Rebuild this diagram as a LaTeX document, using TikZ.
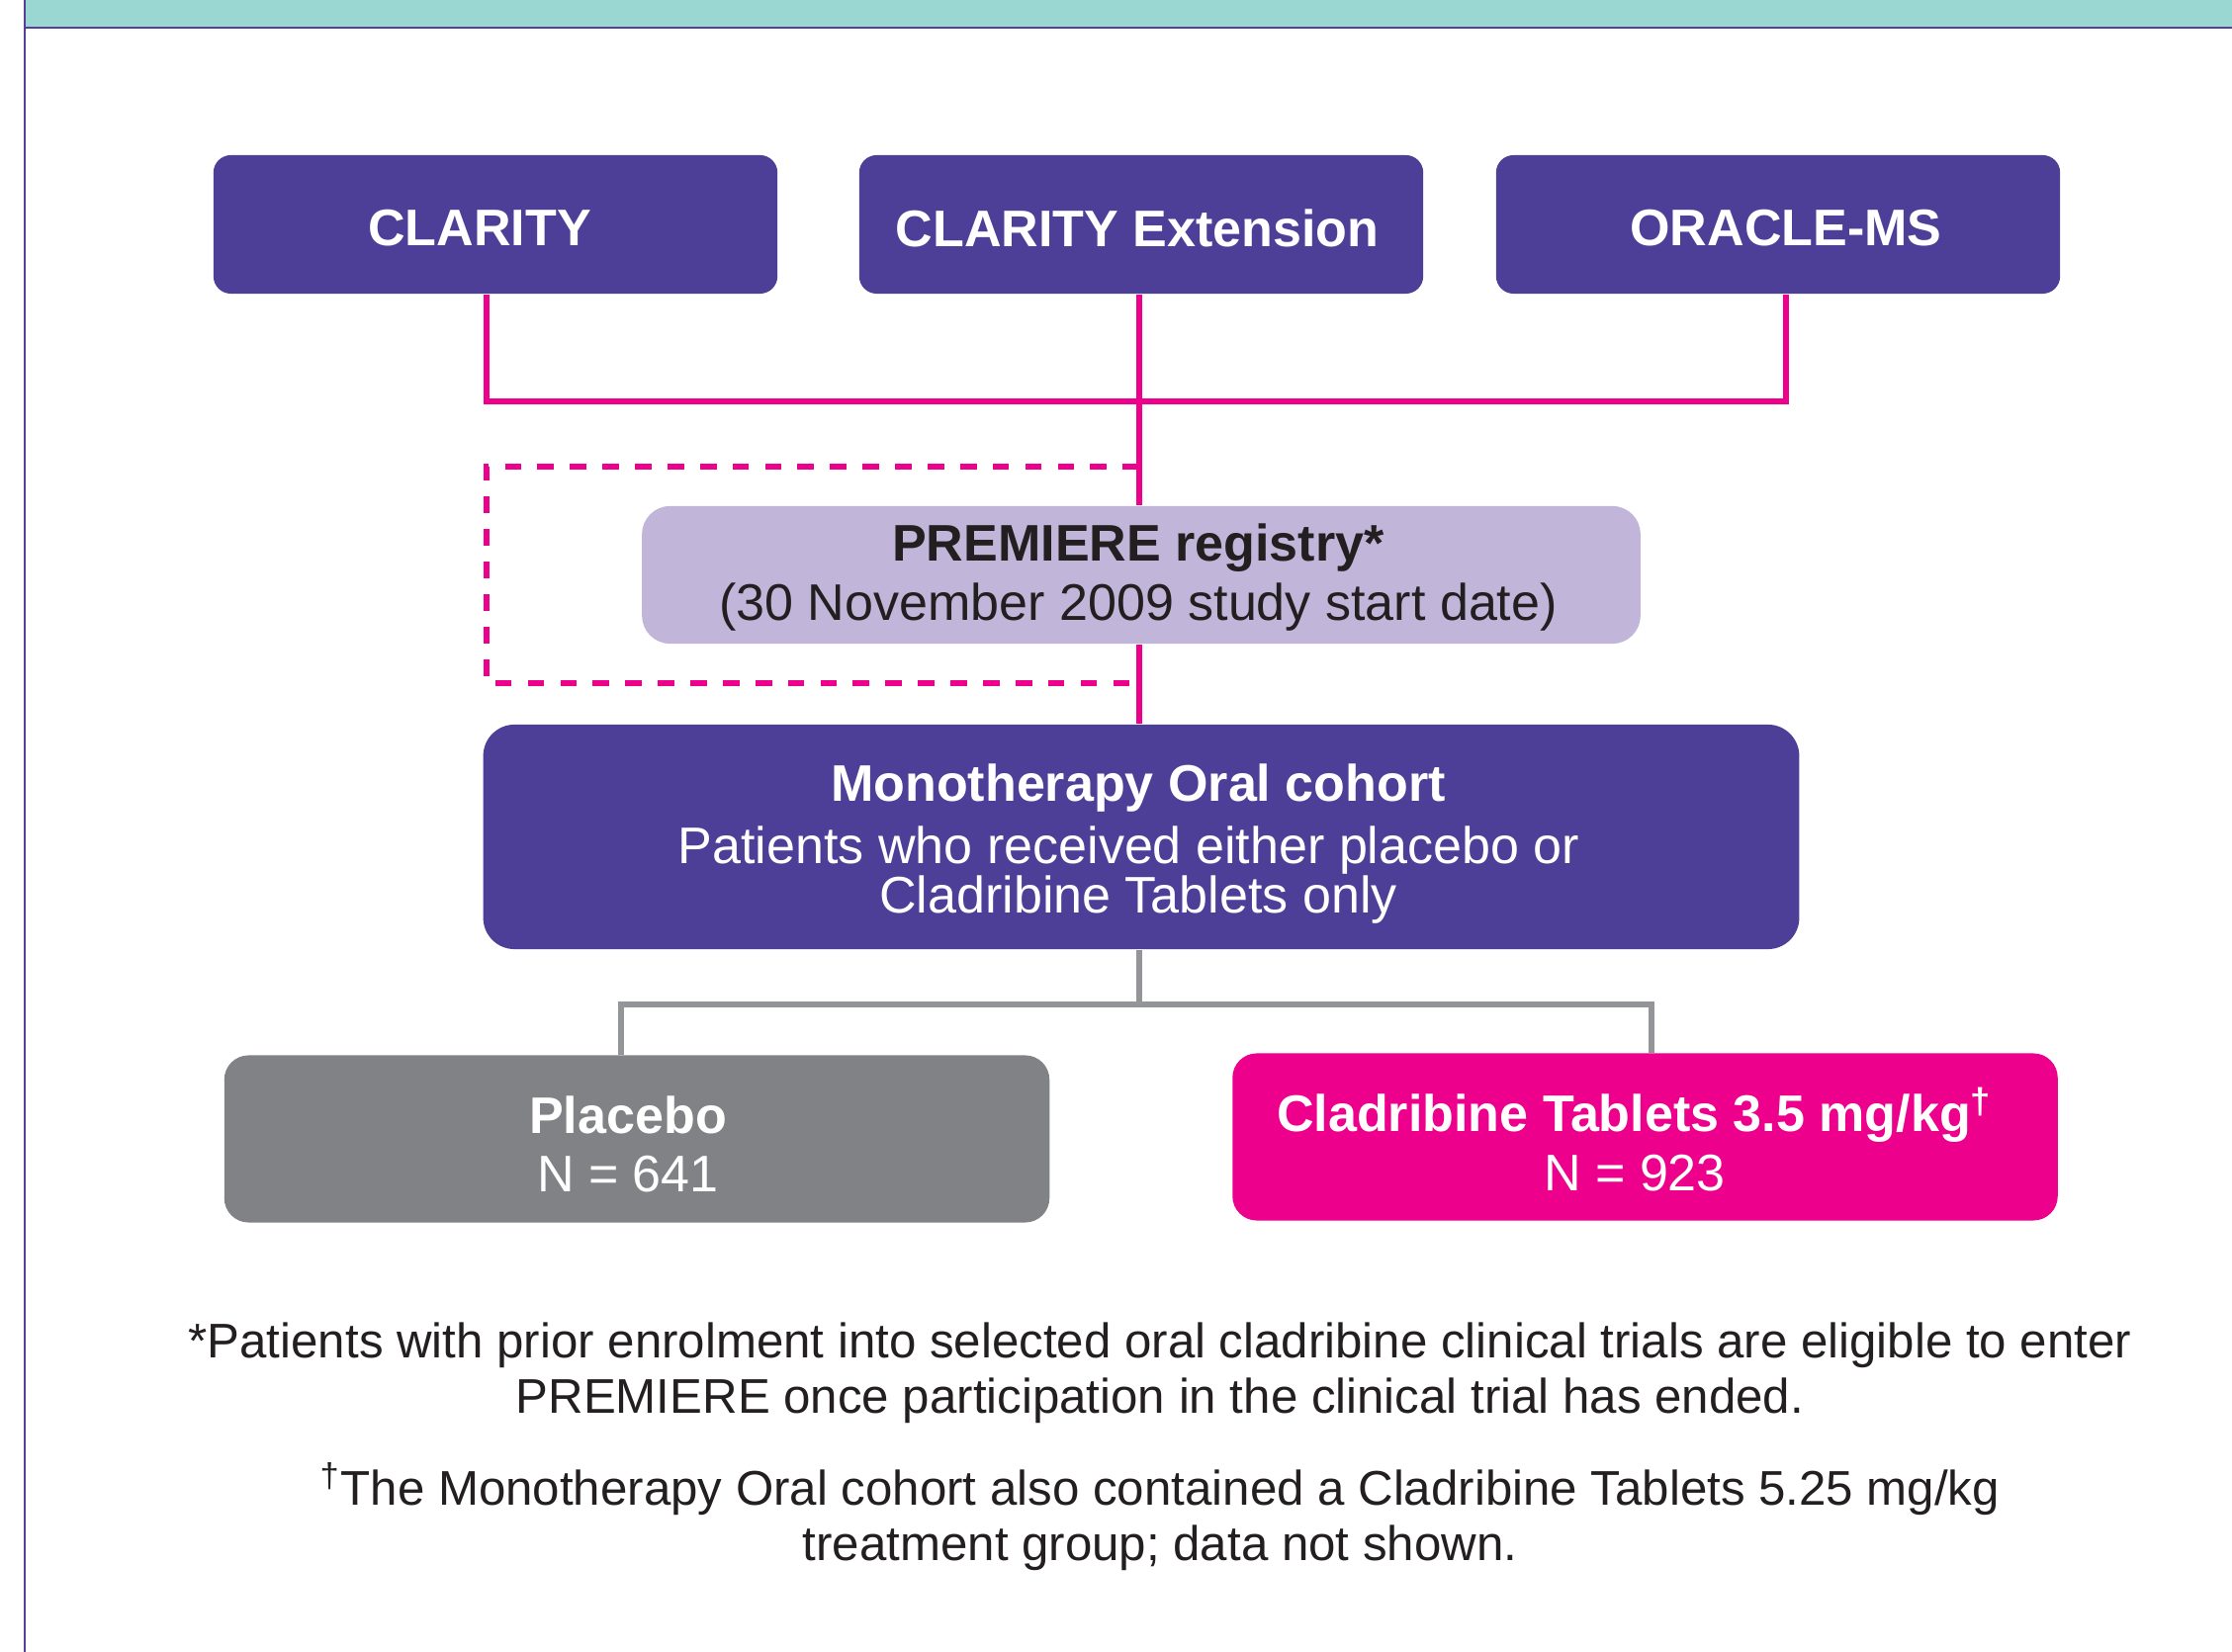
\documentclass[tikz,border=0pt]{standalone}
\usepackage{fontspec}
\setmainfont{Liberation Sans}
\definecolor{boxpurple}{HTML}{4D3F97}
\definecolor{lavender}{HTML}{C1B5D9}
\definecolor{mag}{HTML}{EC008C}
\definecolor{boxgray}{HTML}{818285}
\definecolor{linegray}{HTML}{939598}
\definecolor{tealbar}{HTML}{9AD6D2}
\definecolor{frame}{HTML}{553F9A}
\definecolor{darktext}{HTML}{231F20}
\tikzset{
  topbox/.style={fill=boxpurple, rounded corners=5pt, minimum width=5.70cm, minimum height=1.40cm, inner sep=0pt},
  regbox/.style={fill=lavender, rounded corners=8pt, minimum width=10.09cm, minimum height=1.39cm, inner sep=0pt},
  monobox/.style={fill=boxpurple, rounded corners=9pt, minimum width=13.30cm, minimum height=2.27cm, inner sep=0pt},
  armbox/.style={rounded corners=7pt, minimum width=8.34cm, minimum height=1.69cm, inner sep=0pt},
  toptext/.style={text=white, font=\fontsize{14.8}{16.4}\selectfont\bfseries, inner sep=0pt},
  regtext/.style={text=darktext, align=center, inner sep=0pt, font=\fontsize{14.8}{16.4}\selectfont},
  monotext/.style={text=white, align=center, inner sep=0pt, font=\fontsize{14.8}{14}\selectfont},
  armtext/.style={text=white, align=center, inner sep=0pt, font=\fontsize{14.8}{16.4}\selectfont},
  pinkline/.style={draw=mag, line width=1.6pt},
  pinkdash/.style={draw=mag, line width=1.6pt, dash pattern=on 4.75pt off 4.6pt},
  grayline/.style={draw=linegray, line width=1.6pt},
  note/.style={text=darktext, align=center, inner sep=0pt, font=\fontsize{14}{16}\selectfont}
}
\begin{document}
\begin{tikzpicture}[x=0.01cm, y=-0.01cm]
\useasboundingbox (0,0) rectangle (2257,1671);
% header and frame
\fill[tealbar] (25,0) rectangle (2257,27);
\draw[frame, line width=0.6pt] (25,28) -- (2257,28);
\draw[frame, line width=0.6pt] (25,0) -- (25,1671);

% top boxes
\node[topbox] (clarity) at (501,227) {};
\node[topbox] (ext) at (1154,227) {};
\node[topbox] (oracle) at (1798,227) {};
\node[toptext] (clarityT) at (485,231) {CLARITY};
\node[toptext] (extT) at (1150,231) {CLARITY Extension};
\node[toptext] (oracleT) at (1806,231) {ORACLE-MS};

% registry
\node[regbox] (premiere) at (1154,581.5) {};
\node[regtext] (premiereT) at (1151,584) {\textbf{PREMIERE registry*}\\[0.5pt]
  (30 November 2009 study start date)};

% monotherapy
\node[monobox] (mono) at (1154,846.5) {};
\node[monotext] (monoT) at (1151,853.5) {\textbf{Monotherapy Oral cohort}\\[4pt]
  Patients who received either placebo or\kern5.4pt\\ Cladribine Tablets only};

% arms
\node[armbox, fill=boxgray] (placebo) at (644,1152) {};
\node[armbox, fill=mag] (clad) at (1663.5,1150) {};
\node[armtext] (placeboT) at (635,1157.5) {\textbf{Placebo}\\[0.5pt] N = 641};
\node[armtext] (cladT) at (1653,1152.5) {\textbf{Cladribine Tablets 3.5 mg/kg\textsuperscript{†}}\\[0.5pt] N = 923};

% connectors
\coordinate (hl) at (0,406);
\coordinate (dtop) at (0,472);
\coordinate (dbot) at (0,691);
\coordinate (gl) at (0,1016);
\coordinate (clx) at (492,0);
\coordinate (orx) at (1806,0);
\coordinate (midx) at (1152,0);
\coordinate (plx) at (628,0);
\coordinate (cdx) at (1670,0);
\draw[pinkline] (clarity.south -| clx) -- (hl -| clx) -- (hl -| orx) -- (oracle.south -| orx);
\draw[pinkline] (ext.south -| midx) -- (premiere.north -| midx);
\draw[pinkline] (premiere.south -| midx) -- (mono.north -| midx);
\draw[pinkdash] (dtop -| midx) -- (dtop -| clx) -- (dbot -| clx) -- (dbot -| midx);
\draw[grayline] (mono.south -| midx) -- (gl -| midx);
\draw[grayline] (placebo.north -| plx) -- (gl -| plx) -- (gl -| cdx) -- (clad.north -| cdx);

% footnotes
\node[note] (fn1) at (1173,1389) {*Patients with prior enrolment into selected oral cladribine clinical trials are eligible to enter\\
  PREMIERE once participation in the clinical trial has ended.};
\node[note] (fn2) at (1173,1534) {\textsuperscript{†}The Monotherapy Oral cohort also contained a Cladribine Tablets 5.25 mg/kg\\
  treatment group; data not shown.};
\end{tikzpicture}
\end{document}
